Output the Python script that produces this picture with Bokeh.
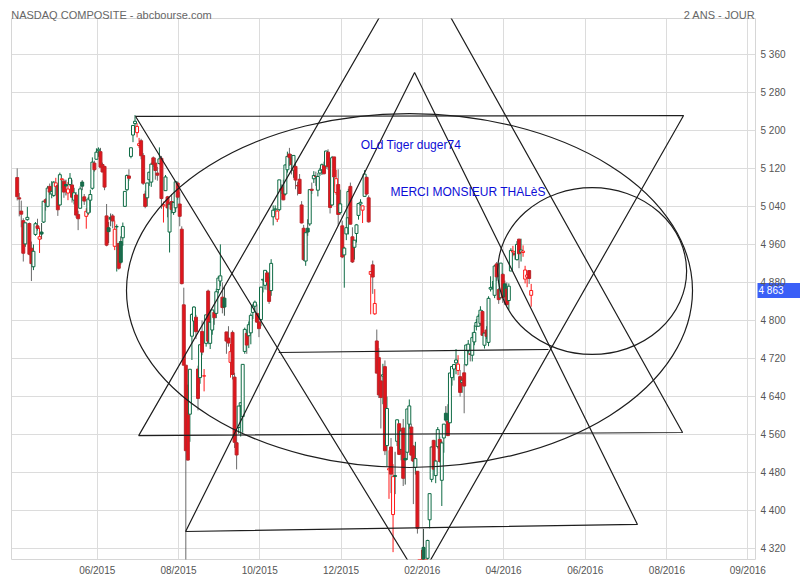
from bokeh.plotting import figure
from bokeh.models import Range1d, FixedTicker, ColumnDataSource, LinearAxis
from bokeh.embed import file_html
from bokeh.resources import INLINE
from bokeh.core.properties import value

# ---- daily OHLC, NASDAQ Composite, 27/04/2015 .. 27/04/2016 (one value per session) ----
opens = [
    5100.6, 5058, 5030, 5010,
    4961, 5012, 5004, 4952, 4913, 4981, 4999, 4971, 4986, 5007, 5054, 5040, 5082, 5066, 5063, 5082, 5084, 5043, 5096, 5093,
    5086, 5068, 5086, 5085, 5053, 5064, 5023, 5036, 5091, 5060, 5019, 5026, 5053, 5078, 5131, 5139, 5157, 5155, 5128, 5124, 5020, 4995,
    5017, 5020, 4956, 4997, 4962, 4966, 4974, 5040, 5075, 5104, 5145, 5190, 5214, 5195, 5168, 5178, 5147, 5066, 5058, 5096, 5091, 5142,
    5131, 5110, 5130, 5141, 5041, 5073, 5060, 4986, 5050, 5027, 5037, 5089, 5045, 4992, 4833, 4706, 4663, 4603, 4767, 4799, 4807,
    4698, 4680, 4777, 4683, 4752, 4862, 4752, 4780, 4817, 4815, 4865, 4883, 4849, 4847, 4776, 4763, 4712, 4775, 4681, 4543, 4575,
    4621, 4598, 4735, 4773, 4768, 4774, 4817, 4830, 4815, 4797, 4802, 4885, 4874, 4900, 4891, 4863, 5018, 5033, 5013, 5033, 5077, 5081,
    5066, 5117, 5150, 5142, 5116, 5124, 5084, 5097, 5043, 4994, 4925, 4994, 5003, 5076, 5098, 5103, 5074, 5110, 5117, 5126,
    5125, 5154, 5133, 5043, 5144, 5069, 5086, 5027, 4999, 4938, 4982, 5016, 5082, 4976, 4954, 4983, 5021, 5045, 5032, 5061, 5101, 5058,
    4897, 4917, 4814, 4757, 4722, 4673, 4683, 4703, 4537, 4486, 4534, 4392, 4474, 4546, 4583, 4529, 4574, 4510, 4523,
    4582, 4576, 4536, 4491, 4483, 4279, 4240, 4323, 4218, 4300, 4381, 4466, 4548, 4474, 4535, 4550, 4464, 4553, 4605, 4588,
    4585, 4680, 4698, 4711, 4695, 4682, 4670, 4690, 4707, 4736, 4730, 4727, 4755, 4788, 4788, 4794, 4819, 4748, 4780, 4754, 4866, 4868,
    4853, 4919, 4865, 4848, 4897, 4877, 4866, 4842, 4904, 4944, 4941, 4928, 4971, 4944, 4943, 4887, 4891, 4905, 4853,
]
highs = [
    5119.8, 5068, 5052, 5015,
    5005.4, 5039, 5006, 4966, 4960, 5007, 5014, 4995, 5005, 5051, 5057, 5083, 5088, 5093, 5093, 5100, 5087, 5111, 5099, 5097,
    5096, 5091, 5110, 5096, 5079, 5070, 5031, 5082, 5095, 5066, 5036, 5060, 5075, 5143, 5136, 5162, 5164, 5163, 5132, 5125, 5045, 5007,
    5025, 5024, 5010, 5002, 4962, 4977, 5006, 5072, 5107, 5118, 5164, 5211, 5231.9, 5215, 5184, 5182, 5152, 5073, 5089, 5113, 5132, 5145,
    5142, 5123, 5164, 5146, 5050, 5106, 5062, 5049, 5066, 5050, 5092, 5092, 5070, 4998, 4869, 4706, 4666, 4697, 4815, 4830, 4812,
    4705, 4749, 4800, 4698, 4812, 4865, 4812, 4822, 4820, 4867, 4894, 4960, 4880, 4873, 4776, 4788, 4751, 4779, 4690, 4569, 4620,
    4628, 4708, 4785, 4781, 4798, 4815, 4835, 4842, 4834, 4809, 4871, 4886, 4906, 4904, 4902, 4929, 5042, 5042, 5035, 5095, 5086, 5096,
    5128, 5155, 5163, 5150, 5148, 5133, 5091, 5108, 5051, 5001, 4985, 5013, 5076, 5090, 5114, 5113, 5110, 5121, 5130, 5134,
    5157, 5160, 5137, 5146, 5144, 5117, 5118, 5075, 5010, 4955, 5017, 5077, 5090, 4996, 4969, 5003, 5046, 5055, 5041, 5116, 5103, 5063,
    4903, 4926, 4866, 4781, 4742, 4683, 4709, 4716, 4640, 4527, 4553, 4498, 4524, 4592, 4583, 4571, 4593, 4525, 4614,
    4634, 4583, 4538, 4545, 4483, 4287, 4318, 4362, 4284, 4339, 4436, 4535, 4549, 4507, 4576, 4556, 4547, 4582, 4620, 4624,
    4690, 4703, 4708, 4740, 4727, 4696, 4679, 4708, 4749, 4759, 4738, 4775, 4790, 4803, 4813, 4830, 4822, 4775, 4788, 4851, 4893, 4883,
    4917, 4923, 4868, 4921, 4900, 4884, 4880, 4878, 4952, 4957, 4946, 4967, 4972, 4972, 4958, 4915, 4897, 4905, 4877,
]
lows = [
    5052.5, 5019, 4996, 4924,
    4955, 5010, 4937, 4883, 4906, 4978, 4989, 4942, 4971, 5005, 5031, 5038, 5064, 5057, 5060, 5081, 5020, 5041, 5078, 5058,
    5063, 5053, 5082, 5048, 5044, 5016, 4990, 5036, 5074, 5043, 4993, 5022, 5027, 5075, 5113, 5139, 5144, 5122, 5112, 5074, 4956, 4963,
    4998, 4994, 4948, 4903, 4907, 4918, 4957, 5040, 5072, 5094, 5141, 5175, 5205, 5185, 5163, 5139, 5085, 5036, 5040, 5083, 5081, 5123,
    5096, 5094, 5128, 5035, 5006, 5073, 5017, 4943, 5025, 5022, 5028, 5054, 4998, 4876, 4706, 4292, 4506, 4545, 4717, 4787, 4761,
    4611, 4667, 4727, 4651, 4745, 4750, 4740, 4770, 4791, 4805, 4857, 4872, 4815, 4810, 4730, 4745, 4680, 4676, 4532, 4487, 4562,
    4556, 4564, 4730, 4730, 4742, 4750, 4803, 4819, 4795, 4765, 4788, 4859, 4865, 4864, 4835, 4852, 5000, 5022, 5007, 5030, 5066, 5053,
    5063, 5111, 5125, 5107, 5100, 5076, 5063, 5067, 5004, 4925, 4915, 4978, 4999, 5066, 5089, 5083, 5061, 5104, 5106, 5107,
    5119, 5117, 5025, 5041, 5082, 5064, 4999, 5023, 4931, 4869, 4969, 4981, 5002, 4921, 4928, 4964, 5012, 5041, 5005, 5061, 5064, 5006,
    4813, 4856, 4812, 4689, 4637, 4573, 4624, 4517, 4493, 4425, 4437, 4313, 4435, 4536, 4517, 4506, 4452, 4455, 4507,
    4572, 4505, 4414, 4476, 4352, 4213, 4224, 4273, 4209, 4268, 4363, 4460, 4485, 4458, 4531, 4501, 4410, 4522, 4586, 4557,
    4584, 4663, 4674, 4687, 4685, 4640, 4648, 4605, 4704, 4730, 4714, 4714, 4748, 4779, 4787, 4789, 4768, 4741, 4761, 4746, 4861, 4865,
    4847, 4883, 4835, 4846, 4837, 4833, 4831, 4822, 4904, 4935, 4928, 4926, 4910, 4924, 4934, 4878, 4870, 4877, 4829,
]
closes = [
    5060.3, 5055.4, 5023.6, 4941.4,
    5005.4, 5016.9, 4939.3, 4919.6, 4945.5, 5003.5, 4993.6, 4976.2, 4981.7, 5050.8, 5048.3, 5078.4, 5070.0, 5071.5, 5090.8, 5089.4, 5032.8, 5106.6, 5097.9, 5070.0,
    5082.9, 5076.5, 5099.2, 5059.1, 5068.5, 5021.6, 5013.9, 5076.7, 5082.5, 5051.1, 5029.7, 5055.5, 5064.9, 5133.0, 5117.0, 5154.0, 5160.1, 5122.4, 5112.2, 5080.5, 4958.5, 4986.9,
    5013.1, 5009.2, 4991.9, 4997.5, 4909.8, 4922.4, 4997.7, 5071.5, 5104.9, 5098.9, 5163.2, 5210.1, 5218.9, 5208.1, 5171.8, 5146.4, 5088.6, 5039.8, 5089.2, 5111.7, 5128.8, 5128.3,
    5115.4, 5105.5, 5139.9, 5056.4, 5043.5, 5101.8, 5036.8, 5044.4, 5033.6, 5048.2, 5091.7, 5059.4, 5019.1, 4877.5, 4706.0, 4526.3, 4506.5, 4697.5, 4812.7, 4828.3, 4776.5,
    4636.1, 4749.0, 4733.5, 4683.9, 4811.9, 4756.5, 4796.3, 4822.3, 4805.8, 4860.5, 4889.2, 4893.9, 4827.2, 4828.3, 4756.7, 4752.7, 4734.5, 4686.5, 4543.9, 4517.3, 4620.2,
    4627.1, 4707.8, 4781.3, 4748.4, 4791.2, 4810.8, 4830.5, 4838.6, 4796.6, 4782.9, 4870.1, 4886.7, 4905.5, 4881.0, 4840.1, 4920.1, 5031.9, 5034.7, 5030.1, 5095.7, 5074.3, 5053.7,
    5127.1, 5145.1, 5142.5, 5127.7, 5147.1, 5095.3, 5083.2, 5067.0, 5005.1, 4927.9, 4984.6, 4986.0, 5075.2, 5073.6, 5104.9, 5102.5, 5102.8, 5116.1, 5127.5, 5108.7,
    5156.3, 5123.2, 5037.5, 5142.3, 5101.8, 5098.2, 5022.9, 5045.2, 4933.5, 4952.2, 4995.1, 5071.1, 5002.6, 4923.1, 4968.9, 5001.1, 5045.9, 5048.5, 5041.0, 5107.9, 5065.9, 5007.4,
    4903.1, 4891.4, 4835.8, 4689.4, 4643.6, 4638.0, 4685.9, 4526.1, 4615.0, 4488.4, 4477.0, 4471.7, 4472.1, 4591.2, 4518.5, 4567.7, 4468.2, 4506.7, 4614.0,
    4620.4, 4517.0, 4504.2, 4509.6, 4363.1, 4283.6, 4268.8, 4283.6, 4266.8, 4337.5, 4436.0, 4534.1, 4487.5, 4504.4, 4570.6, 4503.6, 4542.6, 4582.2, 4590.5, 4558.0,
    4689.6, 4703.4, 4707.4, 4717.0, 4708.3, 4648.8, 4674.4, 4662.2, 4748.5, 4750.3, 4728.7, 4764.0, 4775.0, 4795.7, 4808.9, 4821.7, 4768.9, 4773.5, 4766.8, 4846.6, 4869.3, 4869.9,
    4914.5, 4891.8, 4843.9, 4920.7, 4848.4, 4850.7, 4833.4, 4872.1, 4947.4, 4945.9, 4938.2, 4960.0, 4940.3, 4948.1, 4945.9, 4906.2, 4895.8, 4888.3, 4863.1,
]
last_price_label = "4 863"
last_price = 4863.1

# ---- axes ----
y_ticks = [4320, 4400, 4480, 4560, 4640, 4720, 4800, 4880, 4960, 5040, 5120, 5200, 5280, 5360]
y_tick_labels = ["4 320", "4 400", "4 480", "4 560", "4 640", "4 720", "4 800", "4 880",
                 "4 960", "5 040", "5 120", "5 200", "5 280", "5 360"]
x_ticks = [39.4, 79.4, 119.4, 159.4, 199.4, 239.4, 279.6, 319.8, 359.6]   # session index
x_tick_labels = ["06/2015", "08/2015", "10/2015", "12/2015", "02/2016",
                 "04/2016", "06/2016", "08/2016", "09/2016"]
header_ticks = [46.4, 345.7]
header_labels = ["NASDAQ COMPOSITE - abcbourse.com", "2 ANS - JOUR"]
x_start, x_end = -2.8, 363.4
y_start, y_end = 4297.5, 5435.0

# ---- hand-drawn figures (session index, price) ----
tri_xs = [[59.8, 327.5, 196.1], [82.9, 305.3, 195.6], [58.3, 328.0, 198.0]]
tri_ys = [[4558, 4564.5, 5569.6], [4356.4, 4371.2, 5321.5], [5229, 5231, 4255.5]]
seg_x = [[128.7, 261.5]]
seg_y = [[4732.7, 4739.0]]
ell_x = [193.1, 283.0]
ell_y = [4863, 4904]
ell_w = [278.6, 93.0]
ell_h = [744.3, 351.0]
notes = ["OLd Tiger duger74", "MERCI MONSIEUR THALèS"]
notes_x = [169.1, 183.7]
notes_y = [5168, 5071]

GREEN = "#0f6b45"
GREEN_FILL = "#1d6b4e"
RED = "#ff1a1a"
RED_FILL = "#e3141b"
RED_EDGE = "#b8262b"
TAG = "#3a5ff7"
FONT = "Liberation Sans"

n = len(closes)
idx, top, bot, hi, lo, fill, edge, wick = [], [], [], [], [], [], [], []
for i in range(n):
    o, c = opens[i], closes[i]
    up = (c >= closes[i - 1]) if i > 0 else False
    hollow = c > o
    idx.append(i)
    top.append(max(o, c))
    bot.append(min(o, c))
    hi.append(max(highs[i], o, c))
    lo.append(min(lows[i], o, c))
    if up:
        edge.append(GREEN)
        fill.append("white" if hollow else GREEN_FILL)
        wick.append(GREEN if hollow else "#3d4f47")
    else:
        edge.append(RED if hollow else RED_EDGE)
        fill.append("white" if hollow else RED_FILL)
        wick.append(RED if hollow else "#6a6a6a")

src = ColumnDataSource(dict(x=idx, top=top, bot=bot, hi=hi, lo=lo, fill=fill, edge=edge, wick=wick))

p = figure(width=800, height=580, x_range=Range1d(x_start, x_end), y_range=Range1d(y_start, y_end),
           y_axis_location="right", output_backend="svg", toolbar_location=None,
           min_border_left=11, min_border_right=45, min_border_top=18, min_border_bottom=21)
p.background_fill_color = "white"
p.border_fill_color = "white"
p.outline_line_color = "#d6d6d6"

bottom_ax = p.below[0]
right_ax = p.right[0]

head = LinearAxis(ticker=FixedTicker(ticks=header_ticks),
                  major_label_overrides=dict(zip(header_ticks, header_labels)))
price_ax = LinearAxis(ticker=FixedTicker(ticks=[last_price]),
                      major_label_overrides={last_price: last_price_label})

for ax in (bottom_ax, right_ax, head, price_ax):
    ax.axis_line_color = None
    ax.major_tick_line_color = None
    ax.minor_tick_line_color = None
    ax.major_tick_out = 0
    ax.major_tick_in = 0
    ax.minor_tick_out = 0
    ax.minor_tick_in = 0
    ax.axis_label_standoff = 0
    ax.major_label_text_font = FONT
    ax.major_label_text_font_size = "10px"
    ax.major_label_text_color = "#555555"

head.major_label_text_font_size = "11px"
head.major_label_text_color = "#666666"
head.major_label_standoff = -2
p.add_layout(head, "above")

bottom_ax.ticker = FixedTicker(ticks=x_ticks)
bottom_ax.major_label_overrides = dict(zip(x_ticks, x_tick_labels))
bottom_ax.major_label_standoff = 5

# last-price tag: one blue tick (the tag body) with its white label on top
price_ax.major_tick_line_color = TAG
price_ax.major_tick_line_width = 15
price_ax.major_tick_line_cap = "butt"
price_ax.major_tick_in = -2
price_ax.major_tick_out = 45
price_ax.major_label_standoff = -42
price_ax.major_label_text_color = "white"

right_ax.ticker = FixedTicker(ticks=y_ticks)
right_ax.major_label_overrides = dict(zip(y_ticks, y_tick_labels))
right_ax.major_label_standoff = -26
p.right = [price_ax, right_ax]

p.xgrid.grid_line_color = "#dcdcdc"
p.ygrid.grid_line_color = "#dcdcdc"

p.segment(x0="x", y0="lo", x1="x", y1="hi", line_color="wick", line_width=1, source=src)
p.vbar(x="x", width=1.45, top="top", bottom="bot", fill_color="fill", line_color="edge",
       line_width=1, source=src)

p.patches(tri_xs, tri_ys, fill_color=None, line_color="#1e1e1e", line_width=1.2)
p.multi_line(seg_x, seg_y, line_color="#1e1e1e", line_width=1.2)
p.ellipse(x=ell_x, y=ell_y, width=ell_w, height=ell_h, fill_color=None,
          line_color="#1e1e1e", line_width=1.2)
p.text(x=notes_x, y=notes_y, text=notes, text_font=value(FONT), text_font_size="12px",
       text_color="#0d0dd6", text_baseline="middle", text_align="left")

open("out.html", "w").write(file_html(p, INLINE))
